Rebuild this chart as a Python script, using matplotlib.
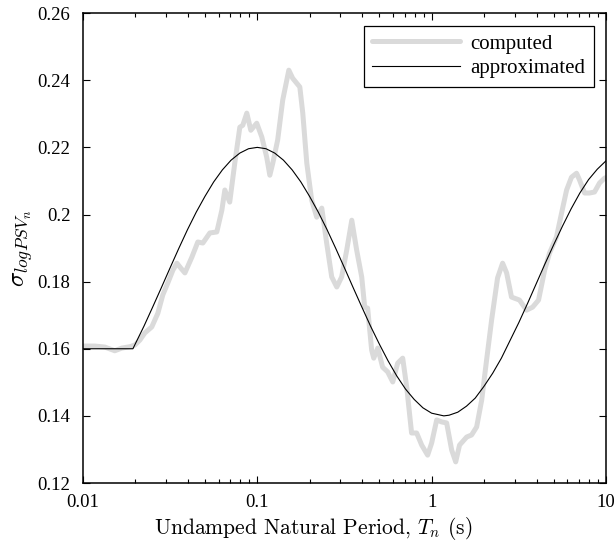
import numpy as np
import matplotlib
matplotlib.use("Agg")
import matplotlib.pyplot as plt
from matplotlib.ticker import FixedLocator, FixedFormatter, LogLocator, NullFormatter

# ---- data (log10 of period, sigma) ----
computed_logT = [-2.000, -1.931, -1.874, -1.817, -1.777, -1.731, -1.702, -1.673, -1.645, -1.605,
                 -1.570, -1.542, -1.513, -1.484, -1.461, -1.438, -1.415, -1.375, -1.341, -1.312,
                 -1.272, -1.232, -1.203, -1.186, -1.158, -1.129, -1.100, -1.083, -1.060, -1.037,
                 -1.003, -0.974, -0.946, -0.928, -0.911, -0.883, -0.854, -0.819, -0.797, -0.756,
                 -0.739, -0.716, -0.688, -0.659, -0.630, -0.602, -0.573, -0.544, -0.516, -0.487,
                 -0.458, -0.430, -0.401, -0.384, -0.367, -0.344, -0.332, -0.309, -0.281, -0.252,
                 -0.223, -0.195, -0.166, -0.143, -0.115, -0.086, -0.057, -0.023, 0.000, 0.029,
                 0.057, 0.086, 0.115, 0.138, 0.160, 0.201, 0.229, 0.258, 0.287, 0.315,
                 0.344, 0.378, 0.407, 0.430, 0.458, 0.504, 0.544, 0.579, 0.613, 0.648,
                 0.676, 0.716, 0.745, 0.774, 0.802, 0.831, 0.848, 0.877, 0.905, 0.934,
                 0.963, 0.991, 1.000]
computed_sigma = [0.1608, 0.1608, 0.1605, 0.1594, 0.1602, 0.1606, 0.1611, 0.1626, 0.1647, 0.1665,
                  0.1706, 0.1760, 0.1796, 0.1834, 0.1855, 0.1840, 0.1826, 0.1873, 0.1918, 0.1915,
                  0.1945, 0.1948, 0.2013, 0.2073, 0.2037, 0.2153, 0.2260, 0.2266, 0.2302, 0.2251,
                  0.2272, 0.2231, 0.2171, 0.2117, 0.2153, 0.2222, 0.2341, 0.2430, 0.2406, 0.2380,
                  0.2302, 0.2153, 0.2043, 0.1992, 0.2019, 0.1915, 0.1814, 0.1784, 0.1814, 0.1894,
                  0.1983, 0.1894, 0.1814, 0.1724, 0.1721, 0.1596, 0.1572, 0.1602, 0.1545, 0.1531,
                  0.1501, 0.1557, 0.1572, 0.1486, 0.1349, 0.1349, 0.1313, 0.1283, 0.1319, 0.1388,
                  0.1382, 0.1379, 0.1298, 0.1263, 0.1313, 0.1337, 0.1343, 0.1367, 0.1447, 0.1566,
                  0.1686, 0.1811, 0.1855, 0.1826, 0.1754, 0.1745, 0.1715, 0.1724, 0.1745, 0.1834,
                  0.1885, 0.1933, 0.2004, 0.2073, 0.2111, 0.2123, 0.2103, 0.2064, 0.2064, 0.2067,
                  0.2094, 0.2108, 0.2110]

approx_logT = [-2.0, -1.9, -1.8, -1.713, -1.7, -1.65, -1.6, -1.55, -1.5, -1.45, -1.4, -1.35,
               -1.3, -1.25, -1.2, -1.15, -1.1, -1.05, -1.0, -0.95, -0.9, -0.85, -0.8, -0.75,
               -0.7, -0.65, -0.6, -0.55, -0.5, -0.45, -0.4, -0.35, -0.3, -0.25, -0.2, -0.15,
               -0.1, -0.05, 0.0, 0.07, 0.1, 0.15, 0.2, 0.25, 0.3, 0.35, 0.4, 0.45,
               0.5, 0.55, 0.6, 0.65, 0.7, 0.75, 0.8, 0.85, 0.9, 0.95, 1.0]
approx_sigma = [0.1600, 0.1600, 0.1600, 0.1600, 0.1614, 0.1667, 0.1724, 0.1782, 0.1841, 0.1899,
                0.1955, 0.2007, 0.2054, 0.2097, 0.2133, 0.2162, 0.2183, 0.2196, 0.2200, 0.2196,
                0.2183, 0.2162, 0.2133, 0.2097, 0.2054, 0.2007, 0.1955, 0.1899, 0.1841, 0.1782,
                0.1724, 0.1667, 0.1614, 0.1564, 0.1519, 0.1480, 0.1449, 0.1424, 0.1408, 0.1400,
                0.1402, 0.1411, 0.1429, 0.1453, 0.1488, 0.1527, 0.1572, 0.1625, 0.1678, 0.1735,
                0.1794, 0.1853, 0.1910, 0.1965, 0.2017, 0.2064, 0.2104, 0.2135, 0.2160]

x_ticks = [0.01, 0.1, 1, 10]
x_ticklabels = ["0.01", "0.1", "1", "10"]
y_ticks = [0.12, 0.14, 0.16, 0.18, 0.20, 0.22, 0.24, 0.26]
y_ticklabels = ["0.12", "0.14", "0.16", "0.18", "0.2", "0.22", "0.24", "0.26"]

computed_T = [10 ** v for v in computed_logT]
approx_T = [10 ** v for v in approx_logT]

plt.rcParams["mathtext.fontset"] = "cm"
plt.rcParams["font.family"] = ["Liberation Serif", "DejaVu Serif"]

fig = plt.figure(figsize=(6.14, 5.47), dpi=100)
ax = fig.add_axes([0.135, 0.117, 0.852, 0.859])

ax.plot(computed_T, computed_sigma, color="#dadada", lw=3.6, label="computed",
        solid_joinstyle="round", solid_capstyle="round")
ax.plot(approx_T, approx_sigma, color="black", lw=0.8, label="approximated")

ax.set_xscale("log")
ax.set_xlim(0.01, 10)
ax.set_ylim(0.12, 0.26)

ax.xaxis.set_major_locator(FixedLocator(x_ticks))
ax.xaxis.set_major_formatter(FixedFormatter(x_ticklabels))
ax.xaxis.set_minor_locator(LogLocator(base=10, subs=np.arange(2, 10), numticks=20))
ax.xaxis.set_minor_formatter(NullFormatter())
ax.yaxis.set_major_locator(FixedLocator(y_ticks))
ax.yaxis.set_major_formatter(FixedFormatter(y_ticklabels))

ax.tick_params(which="both", direction="in", top=True, right=True, labelsize=13.5, width=0.8)
ax.tick_params(which="major", length=5)
ax.tick_params(which="minor", length=3)
ax.tick_params(axis="x", pad=8)
ax.tick_params(axis="y", pad=9)
for s in ax.spines.values():
    s.set_linewidth(1.1)

ax.set_xlabel("Undamped Natural Period, $T_n$ (s)", fontsize=15.5, family="cmr10")
ax.xaxis.set_label_coords(0.44, -0.068)
ax.set_ylabel(r"$\sigma_{logPSV_n}$", fontsize=18, labelpad=2)

leg = ax.legend(loc="upper right", fontsize=15, fancybox=False, framealpha=1,
                edgecolor="black", handlelength=4.2, borderaxespad=0.6,
                handletextpad=0.5, labelspacing=0.25, borderpad=0.4)
leg.get_frame().set_linewidth(0.9)

fig.savefig("out.png", dpi=100)
